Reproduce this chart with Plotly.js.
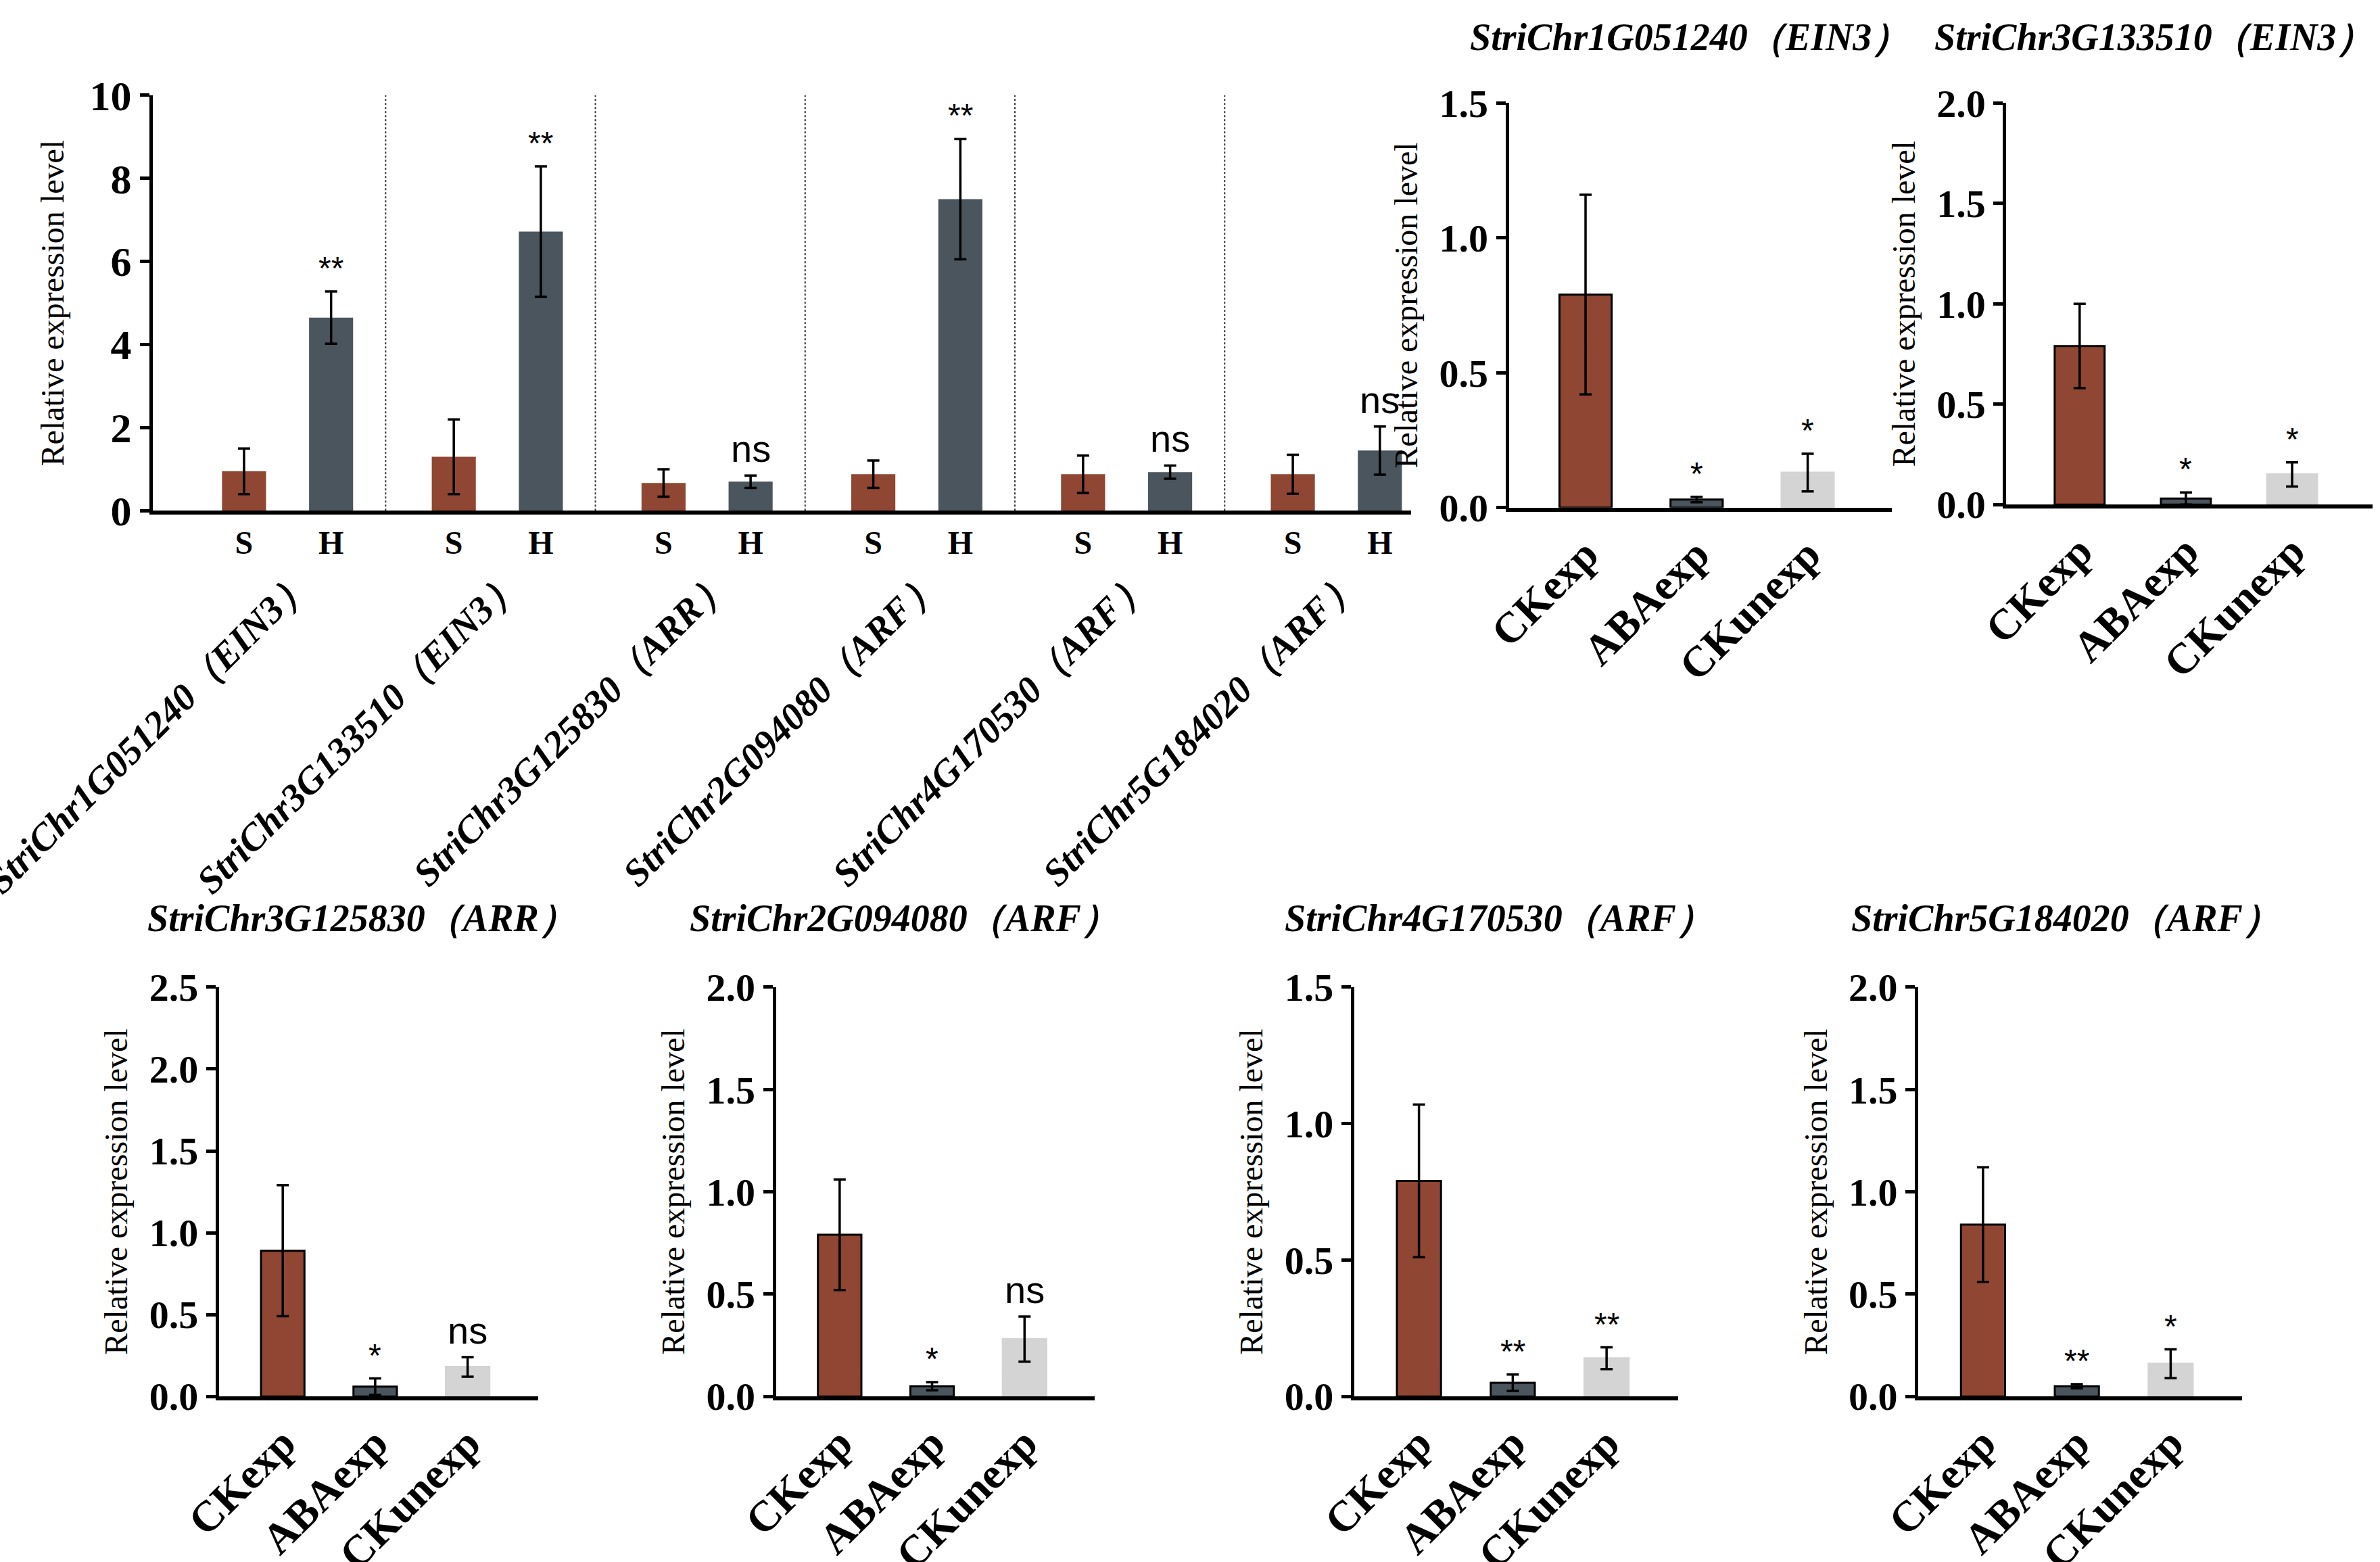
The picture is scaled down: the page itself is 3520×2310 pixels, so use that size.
<!DOCTYPE html>
<html>
<head>
<meta charset="utf-8">
<script src="https://cdn.plot.ly/plotly-3.0.1.min.js"></script>
<style>html,body{margin:0;padding:0;background:#fff}#chart{width:3520px;height:2310px}</style>
</head>
<body>
<div id="chart"></div>
<script>
// overview chart: S vs H for six genes
const genes = ['StriChr1G051240', 'StriChr3G133510', 'StriChr3G125830', 'StriChr2G094080', 'StriChr4G170530', 'StriChr5G184020'];
const families = ['EIN3', 'EIN3', 'ARR', 'ARF', 'ARF', 'ARF'];
const sValues = [0.95, 1.3, 0.67, 0.88, 0.88, 0.88];
const sErrors = [0.55, 0.9, 0.33, 0.33, 0.45, 0.47];
const hValues = [4.65, 6.72, 0.7, 7.5, 0.93, 1.45];
const hErrors = [0.63, 1.57, 0.15, 1.45, 0.16, 0.58];
const hSig = ['**', '**', 'ns', '**', 'ns', 'ns'];

// per-gene panels: CKexp, ABAexp, CKunexp
const treatments = ['CKexp', 'ABAexp', 'CKunexp'];
const panelGenes = [0, 1, 2, 3, 4, 5];
const panelValues = [
    [0.79, 0.03, 0.13],
    [0.79, 0.03, 0.15],
    [0.89, 0.06, 0.18],
    [0.79, 0.05, 0.28],
    [0.79, 0.05, 0.14],
    [0.84, 0.05, 0.16]
];
const panelErrors = [
    [0.37, 0.01, 0.07],
    [0.21, 0.03, 0.06],
    [0.40, 0.05, 0.06],
    [0.27, 0.02, 0.11],
    [0.28, 0.03, 0.04],
    [0.28, 0.01, 0.07]
];
const panelSig = [
    ['', '*', '*'],
    ['', '*', '*'],
    ['', '*', 'ns'],
    ['', '*', 'ns'],
    ['', '**', '**'],
    ['', '**', '*']
];
const panelMax = [1.5, 2.0, 2.5, 2.0, 1.5, 2.0];

const BROWN = '#8f4632', DARK = '#4a555e', LIGHT = '#d4d4d4';
const SERIF = 'Liberation Serif, Times New Roman, serif';
const SANS = 'Liberation Sans, Arial, sans-serif';

const data = [];
const annotations = [];
const shapes = [];
const layout = {
    width: 3520, height: 2310,
    margin: { t: 0, r: 0, l: 0, b: 0 },
    paper_bgcolor: '#fff', plot_bgcolor: '#fff',
    showlegend: false,
    font: { family: SERIF, color: '#000' }
};

function yAxisStyle(domain, max, dtick, size) {
    return {
        domain: domain, range: [0, max], dtick: dtick, tickformat: dtick < 1 ? '.1f' : 'd',
        showgrid: false, zeroline: false, showline: true, linewidth: 5, linecolor: '#000',
        ticks: 'outside', ticklen: 14, tickwidth: 5, tickcolor: '#000',
        tickfont: { family: SERIF, size: size, color: '#000', weight: 'bold' },
        title: { text: 'Relative expression level', font: { family: SERIF, size: 48 }, standoff: 18 }
    };
}

// main chart
const sPos = genes.map((g, i) => 2 * i + 0.87);
const hPos = genes.map((g, i) => 2 * i + 1.7);
data.push({
    type: 'bar', x: sPos, y: sValues, width: 0.42, xaxis: 'x', yaxis: 'y',
    marker: { color: BROWN },
    error_y: { type: 'data', array: sErrors, color: '#000', thickness: 3.5, width: 9 }
});
data.push({
    type: 'bar', x: hPos, y: hValues, width: 0.42, xaxis: 'x', yaxis: 'y',
    marker: { color: DARK },
    error_y: { type: 'data', array: hErrors, color: '#000', thickness: 3.5, width: 9 }
});
layout.xaxis = {
    domain: [0.0642, 0.593], range: [0, 12], showgrid: false, zeroline: false,
    showline: true, linewidth: 6, linecolor: '#000', ticks: '',
    tickvals: sPos.concat(hPos), ticktext: genes.map(() => 'S').concat(genes.map(() => 'H')),
    tickfont: { family: SERIF, size: 48, weight: 'bold' }, anchor: 'y'
};
layout.yaxis = yAxisStyle([0.673, 0.939], 10, 2, 62);
layout.yaxis.anchor = 'x';
layout.yaxis.title.standoff = 24;
genes.forEach((g, i) => {
    if (i < 5) shapes.push({
        type: 'line', xref: 'x', yref: 'y domain', x0: 2 * i + 2.22, x1: 2 * i + 2.22, y0: 0, y1: 1,
        line: { color: '#333', width: 2, dash: 'dot' }
    });
    annotations.push({
        xref: 'x', yref: 'y', x: hPos[i], y: hValues[i] + hErrors[i], yanchor: 'bottom', yshift: 6,
        text: hSig[i], showarrow: false,
        font: { family: SANS, size: hSig[i] === 'ns' ? 56 : 48 }
    });
    annotations.push({
        xref: 'x', yref: 'paper', x: 2 * i + 1.6, y: 0.642, xanchor: 'right', yanchor: 'top',
        text: '<b><i>' + g + '（' + families[i] + '）</i></b>', textangle: -45, showarrow: false,
        font: { family: SERIF, size: 56 }
    });
});

// small panels
const pxDomains = [[0.634, 0.795], [0.843, 0.997], [0.092, 0.226], [0.326, 0.460], [0.569, 0.705], [0.806, 0.942]];
const pyDomains = [[0.675, 0.934], [0.677, 0.934], [0.106, 0.368], [0.106, 0.368], [0.106, 0.368], [0.106, 0.368]];
const titleX = [0.71, 0.905, 0.152, 0.38, 0.63, 0.868];
const titleY = [0.976, 0.976, 0.412, 0.412, 0.412, 0.412];
panelGenes.forEach((gi, p) => {
    const n = p + 2;
    const xa = 'x' + n, ya = 'y' + n;
    data.push({
        type: 'bar', x: [0, 1, 2], y: panelValues[p], width: 0.47, xaxis: xa, yaxis: ya,
        marker: { color: [BROWN, DARK, LIGHT], line: { color: ['#000', '#000', LIGHT], width: 3 } },
        error_y: { type: 'data', array: panelErrors[p], color: '#000', thickness: 3.5, width: 9 }
    });
    layout['xaxis' + n] = {
        domain: pxDomains[p], range: [-0.69, 2.76], anchor: ya, showgrid: false, zeroline: false,
        showline: true, linewidth: 6, linecolor: '#000', ticks: '',
        tickvals: [0, 1, 2], ticktext: treatments, tickangle: -45,
        tickfont: { family: SERIF, size: 64, weight: 'bold' }
    };
    const ax = yAxisStyle(pyDomains[p], panelMax[p], 0.5, 58);
    ax.anchor = xa;
    layout['yaxis' + n] = ax;
    panelSig[p].forEach((s, j) => {
        if (!s) return;
        annotations.push({
            xref: xa, yref: ya, x: j, y: panelValues[p][j] + panelErrors[p][j], yanchor: 'bottom', yshift: 6,
            text: s, showarrow: false, font: { family: SANS, size: s === 'ns' ? 56 : 48 }
        });
    });
    annotations.push({
        xref: 'paper', yref: 'paper', x: titleX[p], y: titleY[p],
        xanchor: 'center', yanchor: 'middle', showarrow: false,
        text: '<b><i>' + genes[gi] + '（' + families[gi] + '）</i></b>',
        font: { family: SERIF, size: 56 }
    });
});

layout.annotations = annotations;
layout.shapes = shapes;
Plotly.newPlot('chart', data, layout, { staticPlot: true });
</script>
</body>
</html>
